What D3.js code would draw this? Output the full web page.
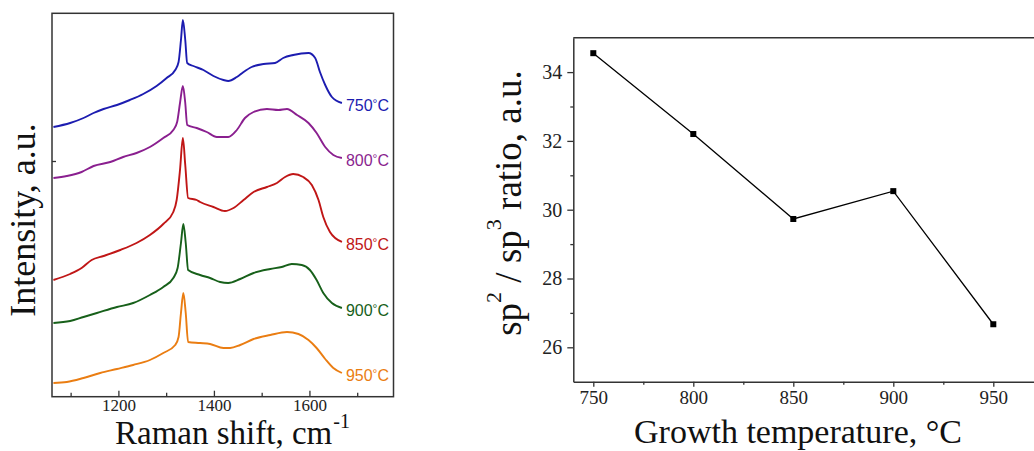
<!DOCTYPE html>
<html><head><meta charset="utf-8">
<script src="https://cdn.jsdelivr.net/npm/d3@7"></script>
<style>
html,body{margin:0;padding:0;background:#fff;}
svg{display:block;}
.serif{font-family:"Liberation Serif","Times New Roman",serif;}
.sans{font-family:"Liberation Sans",Arial,sans-serif;}
</style></head>
<body>
<svg id="c" width="1034" height="451"></svg>
<script>
// ---------- Data: Raman spectra (wavenumber cm^-1, intensity a.u.) ----------
const spectrum750 = [[1064,270],[1099,274],[1127,279],[1148,284],[1169,288],[1197,292],[1224,297],[1252,303],[1280,311],[1301,319],[1319,327],[1326,335],[1331,357],[1335,377],[1340,357],[1344,334],[1357,331],[1378,327],[1399,321],[1420,317],[1430,316],[1448,320],[1462,325],[1479,330],[1504,333],[1528,334],[1545,339],[1566,342],[1598,344],[1612,339],[1622,325],[1633,312],[1647,300],[1668,294]];
const spectrum800 = [[1064,219],[1092,221],[1123,225],[1148,231],[1183,235],[1210,240],[1238,244],[1266,250],[1294,259],[1315,267],[1323,275],[1329,294],[1335,311],[1340,294],[1344,272],[1364,269],[1385,265],[1406,260],[1420,260],[1430,260],[1448,267],[1465,279],[1483,285],[1511,288],[1535,287],[1553,288],[1574,282],[1598,274],[1615,264],[1633,250],[1650,242],[1668,239]];
const spectrum850 = [[1064,117],[1099,123],[1123,129],[1144,137],[1169,141],[1204,147],[1238,154],[1266,162],[1294,173],[1315,185],[1322,197],[1329,227],[1335,259],[1340,232],[1346,199],[1364,197],[1371,195],[1399,190],[1423,186],[1441,189],[1462,197],[1483,205],[1511,210],[1532,214],[1549,220],[1566,223],[1587,220],[1605,212],[1619,197],[1629,180],[1643,165],[1668,155]];
const spectrum900 = [[1064,74],[1099,76],[1127,80],[1155,84],[1197,90],[1231,94],[1266,102],[1294,110],[1315,119],[1324,129],[1331,154],[1336,173],[1341,154],[1346,127],[1371,122],[1392,119],[1413,115],[1430,114],[1455,118],[1483,124],[1518,128],[1542,130],[1563,133],[1584,132],[1601,127],[1615,117],[1629,104],[1647,94],[1668,89]];
const spectrum950 = [[1064,14],[1092,15],[1127,19],[1162,24],[1197,28],[1231,32],[1266,37],[1294,44],[1319,52],[1326,60],[1331,84],[1336,104],[1341,84],[1346,55],[1371,54],[1392,53],[1420,49],[1434,49],[1455,52],[1483,58],[1518,62],[1553,65],[1577,63],[1598,57],[1615,49],[1633,38],[1650,29],[1668,24]];
const spectrumLabels = ["750", "800", "850", "900", "950"];
const spectrumColors = ["#1c1cb0", "#8a1f8f", "#c01616", "#17601a", "#ea7d12"];
const ramanMajorTicks = [1200, 1400, 1600];
const ramanMinorTicks = [1100, 1300, 1500, 1700];
const intensityTicks = [236];

// ---------- Data: sp2/sp3 ratio vs growth temperature ----------
const growthTemps = [750, 800, 850, 900, 950];
const sp2sp3Ratio = [34.55, 32.2, 29.73, 30.54, 26.67];
const tempMajorTicks = [750, 800, 850, 900, 950];
const tempMinorTicks = [775, 825, 875, 925];
const ratioMajorTicks = [26, 28, 30, 32, 34];
const ratioMinorTicks = [27, 29, 31, 33];

const svg = d3.select("#c");
const axisColor = "#333";

// ================= Left panel =================
const L = {left: 52, right: 393.5, top: 13.3, bottom: 396.7};
const xL = d3.scaleLinear().domain([1061, 1776]).range([L.left, L.right]);
const yL = d3.scaleLinear().domain([0, 384]).range([397, 13]);

const gL = svg.append("g");
gL.append("rect").attr("x", L.left).attr("y", L.top)
  .attr("width", L.right - L.left).attr("height", L.bottom - L.top)
  .attr("fill", "none").attr("stroke", axisColor).attr("stroke-width", 1.5);

const axBL = gL.append("g").attr("transform", `translate(0,${L.bottom})`)
  .call(d3.axisBottom(xL).tickValues(ramanMajorTicks).tickSizeInner(-6).tickSizeOuter(0).tickPadding(2).tickFormat(d3.format("d")));
axBL.select(".domain").remove();
axBL.selectAll("line").attr("stroke", axisColor).attr("stroke-width", 1.3);
axBL.selectAll("text").attr("class", "serif").style("font-size", "17px").attr("fill", "#222");

const axBLm = gL.append("g").attr("transform", `translate(0,${L.bottom})`)
  .call(d3.axisBottom(xL).tickValues(ramanMinorTicks).tickSizeInner(-4).tickSizeOuter(0).tickFormat(""));
axBLm.select(".domain").remove();
axBLm.selectAll("line").attr("stroke", axisColor).attr("stroke-width", 1.3);

const axLL = gL.append("g").attr("transform", `translate(${L.left},0)`)
  .call(d3.axisLeft(yL).tickValues(intensityTicks).tickSizeInner(-4).tickSizeOuter(0).tickFormat(""));
axLL.select(".domain").remove();
axLL.selectAll("line").attr("stroke", axisColor).attr("stroke-width", 1.3);

const spectra = [spectrum750, spectrum800, spectrum850, spectrum900, spectrum950];
const lineL = d3.line().x(d => xL(d[0])).y(d => yL(d[1])).curve(d3.curveMonotoneX);
spectra.forEach((s, i) => {
  gL.append("path").datum(s).attr("d", lineL)
    .attr("fill", "none").attr("stroke", spectrumColors[i]).attr("stroke-width", 1.9)
    .attr("stroke-linejoin", "round");
  const last = s[s.length - 1];
  const t = gL.append("text").attr("class", "sans")
    .attr("x", xL(last[0]) + 4).attr("y", yL(last[1]) + 8)
    .attr("fill", spectrumColors[i]).style("font-size", "16px");
  t.append("tspan").text(spectrumLabels[i]);
  t.append("tspan").text("°").style("font-size", "12px").attr("dy", -3);
  t.append("tspan").text("C").attr("dy", 3);
});

// axis titles
const xTitleL = gL.append("text").attr("class", "serif")
  .attr("x", 115).attr("y", 443.85).style("font-size", "33px").attr("fill", "#111")
  .text("Raman shift, cm");
const xTitleLen = xTitleL.node().getComputedTextLength();
gL.append("text").attr("class", "serif")
  .attr("x", 115 + xTitleLen + 1).attr("y", 428).style("font-size", "20px").attr("fill", "#111")
  .text("-1");

gL.append("text").attr("class", "serif")
  .attr("transform", "translate(35,220) rotate(-90)")
  .attr("text-anchor", "middle").style("font-size", "36px").attr("fill", "#111")
  .text("Intensity, a.u.");

// ================= Right panel =================
const R = {left: 573.3, top: 37.7, bottom: 381.7};
const xR = d3.scaleLinear().domain([740, 972]).range([R.left, R.left + 232 * 2]);
const yR = d3.scaleLinear().domain([25, 35]).range([R.bottom, R.top]);
const gR = svg.append("g");

// top frame line
gR.append("line").attr("x1", R.left).attr("x2", xR(972)).attr("y1", R.top).attr("y2", R.top)
  .attr("stroke", axisColor).attr("stroke-width", 1.5);

const axBR = gR.append("g").attr("transform", `translate(0,${R.bottom})`)
  .call(d3.axisBottom(xR).tickValues(tempMajorTicks).tickSizeInner(5).tickSizeOuter(0).tickPadding(4).tickFormat(d3.format("d")));
axBR.select(".domain").attr("stroke", axisColor).attr("stroke-width", 1.5);
axBR.selectAll("line").attr("stroke", axisColor).attr("stroke-width", 1.3);
axBR.selectAll("text").attr("class", "serif").style("font-size", "19px").attr("fill", "#222");
const axBRm = gR.append("g").attr("transform", `translate(0,${R.bottom})`)
  .call(d3.axisBottom(xR).tickValues(tempMinorTicks).tickSizeInner(3).tickSizeOuter(0).tickFormat(""));
axBRm.select(".domain").remove();
axBRm.selectAll("line").attr("stroke", axisColor).attr("stroke-width", 1.3);

const axLR = gR.append("g").attr("transform", `translate(${R.left},0)`)
  .call(d3.axisLeft(yR).tickValues(ratioMajorTicks).tickSizeInner(6).tickSizeOuter(0).tickPadding(5).tickFormat(d3.format("d")));
axLR.select(".domain").attr("stroke", axisColor).attr("stroke-width", 1.5);
axLR.selectAll("line").attr("stroke", axisColor).attr("stroke-width", 1.3);
axLR.selectAll("text").attr("class", "serif").style("font-size", "20px").attr("fill", "#222");
const axLRm = gR.append("g").attr("transform", `translate(${R.left},0)`)
  .call(d3.axisLeft(yR).tickValues(ratioMinorTicks).tickSizeInner(3).tickSizeOuter(0).tickFormat(""));
axLRm.select(".domain").remove();
axLRm.selectAll("line").attr("stroke", axisColor).attr("stroke-width", 1.3);

const ratioPts = growthTemps.map((t, i) => [t, sp2sp3Ratio[i]]);
gR.append("path").datum(ratioPts)
  .attr("d", d3.line().x(d => xR(d[0])).y(d => yR(d[1])))
  .attr("fill", "none").attr("stroke", "#000").attr("stroke-width", 1.3);
gR.selectAll(".mk").data(ratioPts).enter().append("rect")
  .attr("x", d => xR(d[0]) - 3).attr("y", d => yR(d[1]) - 3)
  .attr("width", 6).attr("height", 6).attr("fill", "#000");

gR.append("text").attr("class", "serif")
  .attr("x", 798).attr("y", 443).attr("text-anchor", "middle")
  .style("font-size", "34px").attr("fill", "#111")
  .text("Growth temperature, °C");

const yTitleR = gR.append("text").attr("class", "serif")
  .attr("transform", "translate(521,203) rotate(-90)")
  .attr("text-anchor", "middle").style("font-size", "37px").attr("fill", "#111");
yTitleR.append("tspan").text("sp");
yTitleR.append("tspan").text("2").style("font-size", "22px").attr("dy", -20);
yTitleR.append("tspan").text(" / sp").attr("dy", 20);
yTitleR.append("tspan").text("3").style("font-size", "22px").attr("dy", -20);
yTitleR.append("tspan").text(" ratio, a.u.").attr("dy", 20);
</script>
</body></html>
